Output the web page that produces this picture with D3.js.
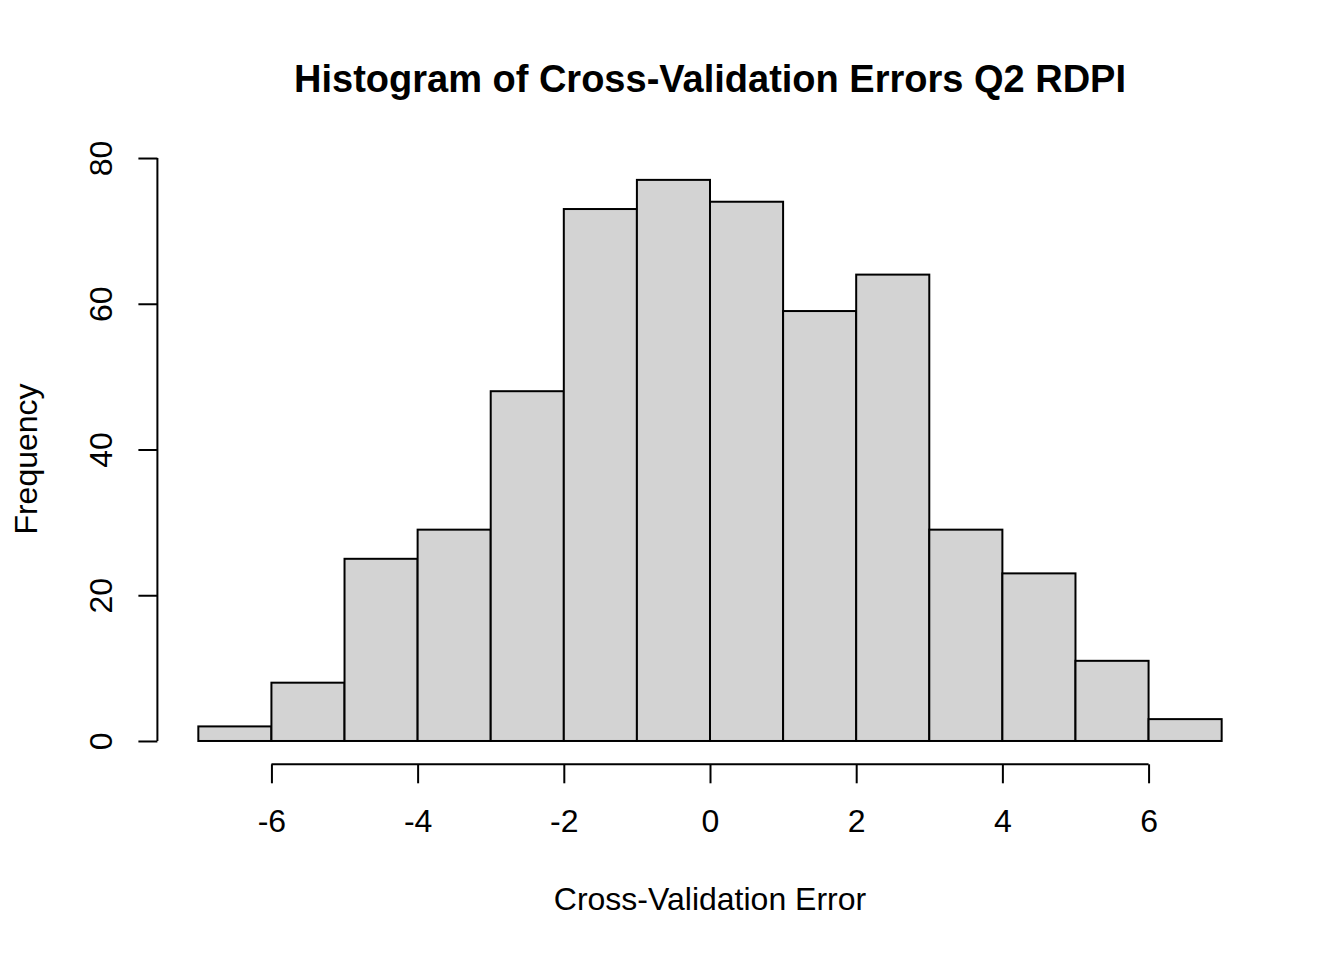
<!DOCTYPE html>
<html>
<head>
<meta charset="utf-8">
<script src="https://cdn.jsdelivr.net/npm/d3@7"></script>
<style>
  body { margin: 0; background: #fff; }
  text { font-family: "Liberation Sans", Arial, sans-serif; fill: #000; }
</style>
</head>
<body>
<div id="chart"></div>
<script>
// histogram bins (left edges) and counts
var binStarts = [-7, -6, -5, -4, -3, -2, -1, 0, 1, 2, 3, 4, 5, 6];
var counts = [2, 8, 25, 29, 48, 73, 77, 74, 59, 64, 29, 23, 11, 3];
var xTicks = [-6, -4, -2, 0, 2, 4, 6];
var yTicks = [0, 20, 40, 60, 80];
var binWidth = 1;

var width = 1344, height = 960;
var svg = d3.select("#chart").append("svg")
    .attr("width", width)
    .attr("height", height);

// plot region like R's: data range padded by 4%
var x = d3.scaleLinear().domain([-7.56, 7.56]).range([157.4, 1262.6]);
var y = d3.scaleLinear().domain([-3.2, 83.2]).range([764.3, 134.7]);

var bars = binStarts.map(function (s, i) { return { x0: s, x1: s + binWidth, n: counts[i] }; });

svg.append("g").selectAll("rect")
    .data(bars)
    .enter().append("rect")
    .attr("x", function (d) { return x(d.x0); })
    .attr("y", function (d) { return y(d.n); })
    .attr("width", function (d) { return x(d.x1) - x(d.x0); })
    .attr("height", function (d) { return y(0) - y(d.n); })
    .style("fill", "#d3d3d3")
    .style("stroke", "#000")
    .style("stroke-width", 2);

// x axis
var xAxis = svg.append("g")
    .attr("transform", "translate(0," + y.range()[0] + ")")
    .call(d3.axisBottom(x).tickValues(xTicks).tickSize(19).tickSizeOuter(0)
        .tickFormat(function (d) { return d < 0 ? "-" + Math.abs(d) : d; }));
xAxis.select(".domain").remove();
xAxis.append("line")
    .attr("x1", x(xTicks[0])).attr("x2", x(xTicks[xTicks.length - 1]))
    .attr("stroke", "#000");
xAxis.selectAll("line").style("stroke-width", 2);
xAxis.selectAll(".tick text")
    .attr("y", 68).attr("dy", null)
    .style("font-size", "32px").style("fill", "#000");

// y axis, labels turned like R's default
var yAxis = svg.append("g")
    .attr("transform", "translate(" + x.range()[0] + ",0)")
    .call(d3.axisLeft(y).tickValues(yTicks).tickSize(19).tickSizeOuter(0));
yAxis.select(".domain").remove();
yAxis.append("line")
    .attr("y1", y(yTicks[0])).attr("y2", y(yTicks[yTicks.length - 1]))
    .attr("stroke", "#000");
yAxis.selectAll("line").style("stroke-width", 2);
yAxis.selectAll(".tick text")
    .attr("x", null).attr("dy", null)
    .attr("transform", "translate(-45,0) rotate(-90)")
    .attr("text-anchor", "middle")
    .style("font-size", "32px").style("fill", "#000");

svg.append("text")
    .attr("x", 710).attr("y", 92)
    .attr("text-anchor", "middle")
    .style("font-size", "38px").style("font-weight", "bold")
    .text("Histogram of Cross-Validation Errors Q2 RDPI");

svg.append("text")
    .attr("x", 710).attr("y", 910)
    .attr("text-anchor", "middle")
    .style("font-size", "32px")
    .text("Cross-Validation Error");

svg.append("text")
    .attr("transform", "translate(37,459) rotate(-90)")
    .attr("text-anchor", "middle")
    .style("font-size", "32px")
    .text("Frequency");
</script>
</body>
</html>
